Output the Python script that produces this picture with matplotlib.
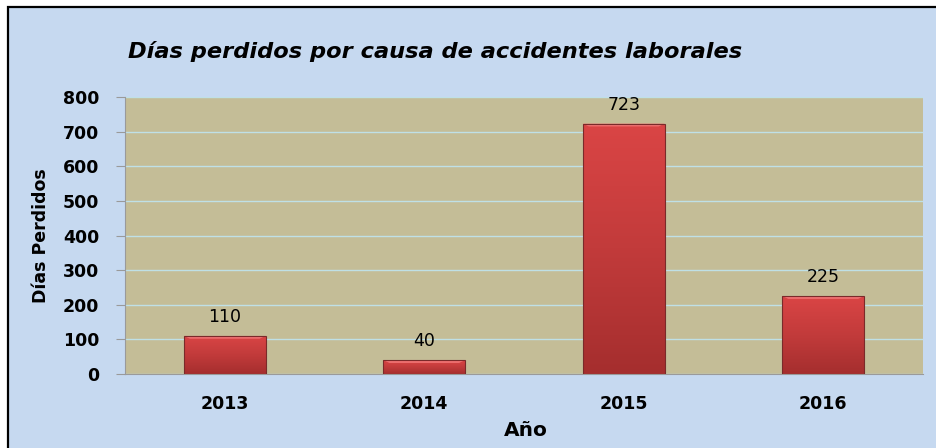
import matplotlib
matplotlib.use("Agg")
import matplotlib.pyplot as plt
import numpy as np
from matplotlib.patches import Rectangle, Polygon
from matplotlib.colors import LinearSegmentedColormap

years = ['2013', '2014', '2015', '2016']
dias = [110, 40, 723, 225]
yticks = [0, 100, 200, 300, 400, 500, 600, 700, 800]
title = 'Días perdidos por causa de accidentes laborales'
ylabel = 'Días Perdidos'
xlabel = 'Año'

W, H = 937, 448
fig = plt.figure(figsize=(W / 100, H / 100), dpi=100)
fig.patch.set_facecolor('white')
FONT = 'DejaVu Sans'

border = Rectangle((8.5 / W, -0.05), 1.2, (H - 7.5) / H + 0.05, transform=fig.transFigure,
                   facecolor='#C6D9F0', edgecolor='black', lw=1.6, zorder=-10)
fig.patches.append(border)

L, R, T, B = 125, 923, 97, 374
ax = fig.add_axes([L / W, (H - B) / H, (R - L) / W, (B - T) / H])
ax.set_zorder(5)
ax.set_facecolor('#C4BD97')
x = np.arange(len(years))
ax.set_xlim(-0.5, len(years) - 0.5)
ax.set_ylim(0, 800)
ax.set_yticks(yticks)
ax.yaxis.grid(True, color='#BFE0E6', lw=1.0)
ax.set_axisbelow(True)
for s in ['top', 'right']:
    ax.spines[s].set_visible(False)
ax.spines['left'].set_color('#9A9A9A')
ax.spines['bottom'].set_color('#9A9A9A')
ax.tick_params(axis='y', length=6.5, color='#9A9A9A', pad=12)
ax.tick_params(axis='x', length=0, pad=15)
ax.set_xticks(x)
ax.set_xticklabels(years)
for lab in ax.get_xticklabels() + ax.get_yticklabels():
    lab.set_fontfamily(FONT)
    lab.set_fontweight('bold')
    lab.set_fontsize(12.5)

bw = 0.41
bars = ax.bar(x, dias, width=bw, color='none', edgecolor='#7A2A2A', lw=0.8, zorder=3)
cmap = LinearSegmentedColormap.from_list('r', ['#A52E2E', '#C23B3B', '#DA4545'])
grad = np.linspace(0, 1, 256).reshape(-1, 1)
for b, v in zip(bars, dias):
    x0 = b.get_x()
    im = ax.imshow(grad, extent=[x0, x0 + bw, 0, v], origin='lower', aspect='auto',
                   cmap=cmap, zorder=2)
    im.set_clip_path(b)
    h = 8
    ax.add_patch(Polygon([[x0, v], [x0 + bw, v], [x0 + bw - 0.03, v - h], [x0 + 0.03, v - h]],
                         closed=True, facecolor='#EE7070', edgecolor='none', zorder=2.5))
    ax.annotate(str(v), (x0 + bw / 2, v), xytext=(0, 7), textcoords='offset points',
                ha='center', va='bottom', fontsize=12.5, fontfamily=FONT, color='black')
ax.set_xlim(-0.5, len(years) - 0.5)
ax.set_ylim(0, 800)

fig.text(128 / W, 1 - 58 / H, title, fontsize=16.2, fontweight='bold', fontstyle='italic',
         fontfamily=FONT, ha='left', va='baseline')
fig.text(41 / W, 1 - 236 / H, ylabel, fontsize=12.5, fontweight='bold', fontfamily=FONT,
         rotation=90, ha='center', va='center')
fig.text(526 / W, 1 - 430 / H, xlabel, fontsize=14.5, fontweight='bold', fontfamily=FONT,
         ha='center', va='center')

fig.savefig('out.png', dpi=100, facecolor=fig.get_facecolor())
